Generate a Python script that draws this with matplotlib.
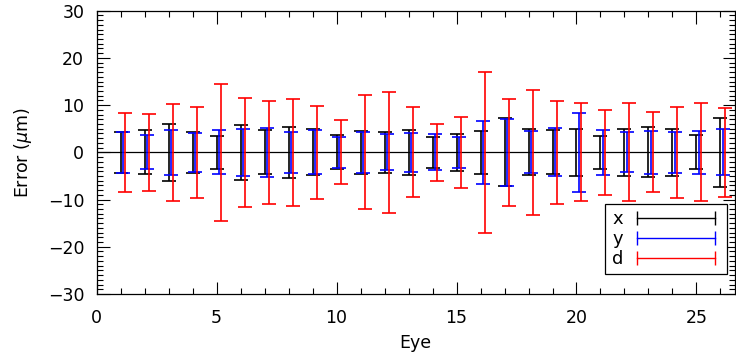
import numpy as np
import matplotlib
matplotlib.use("Agg")
import matplotlib.pyplot as plt
from matplotlib.lines import Line2D
from matplotlib.ticker import MultipleLocator

# per-eye error (half-width of bars)
eyes = np.arange(1, 27)
err_x = [4.3, 4.65, 6.0, 4.37, 3.45, 5.8, 4.65, 5.35, 4.9, 3.6, 4.5, 4.37, 4.7,
         3.25, 3.95, 4.5, 7.2, 4.85, 4.65, 5.0, 3.45, 4.93, 5.3, 4.93, 3.6, 7.25]
err_y = [4.3, 3.6, 4.7, 4.16, 4.65, 5.0, 5.15, 4.3, 4.65, 3.3, 4.3, 3.8, 4.15,
         3.8, 3.3, 6.7, 7.1, 4.45, 5.07, 8.4, 4.7, 4.23, 4.6, 4.37, 4.5, 4.85]
err_d = [8.3, 8.1, 10.2, 9.6, 14.45, 11.5, 10.85, 11.3, 9.8, 6.8, 12.1, 12.75, 9.5,
         6.05, 7.55, 17.1, 11.3, 13.2, 10.85, 10.35, 9.0, 10.35, 8.45, 9.6, 10.4, 9.45]

series = [("x", err_x, "black", 0.0),
          ("y", err_y, "blue", 0.1),
          ("d", err_d, "red", 0.2)]

plt.rcParams['font.family'] = 'DejaVu Sans'
plt.rcParams['font.size'] = 12.5

fig = plt.figure(figsize=(7.36, 3.58), dpi=100)
ax = fig.add_axes([0.1314, 0.1788, 0.867, 0.7913])

ax.axhline(0, color='black', lw=0.9, zorder=1)

handles = []
for name, err, col, off in series:
    ax.errorbar(eyes + off, np.zeros(len(eyes)), yerr=err, fmt='none',
                ecolor=col, elinewidth=1.2, capsize=4.8, capthick=1.2, zorder=2)
    handles.append(Line2D([0], [0], color=col, lw=1.0, marker='|',
                          markersize=10, markeredgewidth=1.0, label=name))

ax.set_xlim(0, 26.6)
ax.set_ylim(-30, 30)
ax.xaxis.set_major_locator(MultipleLocator(5))
ax.xaxis.set_minor_locator(MultipleLocator(1))
ax.yaxis.set_major_locator(MultipleLocator(10))
ax.yaxis.set_minor_locator(MultipleLocator(1))
ax.tick_params(which='both', direction='in', top=True, right=True, width=0.8)
ax.tick_params(which='major', length=9)
ax.tick_params(which='minor', length=4.5)
ax.tick_params(axis='x', which='major', pad=11)
ax.tick_params(axis='y', which='major', pad=9)
for s in ax.spines.values():
    s.set_linewidth(0.9)

ax.set_xlabel('Eye', labelpad=5)
ax.set_ylabel(r'Error ($\mu$m)', labelpad=10)

leg = ax.legend(handles=handles, loc='lower left',
                bbox_to_anchor=(0.797, 0.07), borderaxespad=0,
                numpoints=2, markerfirst=False, handlelength=4.9,
                handletextpad=0.5, borderpad=0.35, labelspacing=0.1,
                fancybox=False, framealpha=1, fontsize=13)
leg.get_frame().set_edgecolor('black')
leg.get_frame().set_linewidth(0.9)

fig.savefig('out.png', dpi=100)
